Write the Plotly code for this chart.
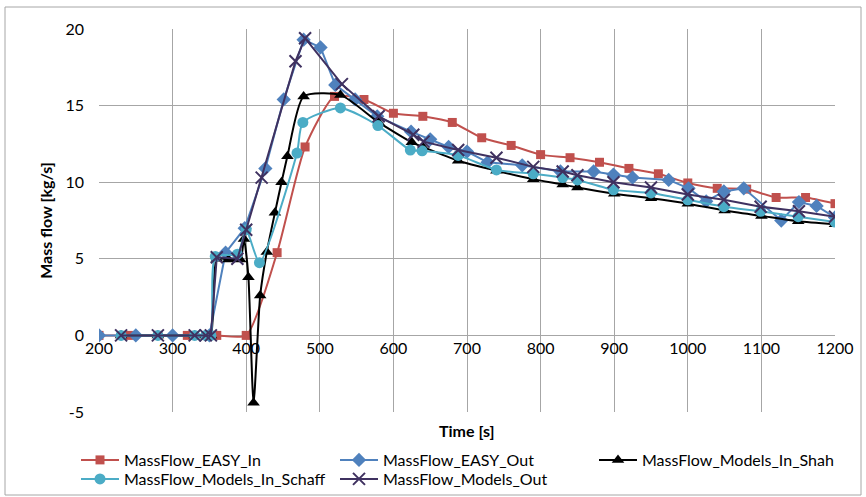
import plotly.graph_objects as go

# ---- data ----
t_easy_in = [200, 240, 280, 320, 360, 400, 442, 480, 520, 560, 600, 640, 680, 720, 760, 800,
             840, 880, 920, 960, 1000, 1040, 1080, 1120, 1160, 1200]
easy_in = [0, 0, 0, 0, 0, 0, 5.4, 12.3, 15.6, 15.4, 14.5, 14.3, 13.9, 12.9, 12.4, 11.8,
           11.6, 11.3, 10.9, 10.55, 9.95, 9.6, 9.55, 9.0, 9.0, 8.6]

t_easy_out = [200, 250, 300, 350, 372, 398, 426, 451, 478, 501, 521, 548, 578, 624, 650, 675,
              700, 728, 775, 827, 872, 899, 925, 974, 1001, 1025, 1049, 1076, 1127, 1151, 1175, 1200]
easy_out = [0, 0, 0, 0, 5.4, 7.0, 10.9, 15.4, 19.3, 18.8, 16.35, 15.4, 14.3, 13.3, 12.8, 12.3,
            12.0, 11.3, 11.1, 10.7, 10.7, 10.5, 10.3, 10.15, 9.6, 8.75, 9.4, 9.6, 7.5, 8.7, 8.45, 7.7]

t_shah = [230, 280, 330, 345, 352, 360, 376, 392, 397, 403, 410, 419, 428, 439, 448, 456, 478,
          528, 580, 625, 640, 688, 740, 790, 830, 850, 900, 950, 1000, 1050, 1100, 1150, 1200]
shah = [0, 0, 0, 0, 0, 5.0, 4.95, 4.95, 6.3, 3.8, -4.4, 2.6, 5.45, 8.0, 10.0, 11.7, 15.6,
        15.7, 13.9, 12.6, 12.3, 11.4, 10.75, 10.2, 9.85, 9.65, 9.25, 8.95, 8.6, 8.15, 7.8, 7.45, 7.25]

t_schaff = [230, 280, 330, 345, 352, 358, 388, 400, 418, 469, 477, 528, 579, 623, 639, 688, 740,
            790, 830, 850, 899, 950, 1000, 1049, 1099, 1150, 1200]
schaff = [0, 0, 0, 0, 0, 5.15, 5.3, 6.9, 4.75, 11.9, 13.9, 14.85, 13.7, 12.1, 12.05, 11.75, 10.8,
          10.55, 10.3, 10.15, 9.5, 9.3, 8.85, 8.4, 8.1, 7.75, 7.4]

t_models_out = [230, 280, 330, 345, 352, 360, 388, 400, 421, 467, 480, 530, 580, 627, 641, 688,
                740, 790, 830, 850, 899, 950, 1000, 1049, 1099, 1151, 1200]
models_out = [0, 0, 0, 0, 0, 5.1, 5.0, 6.9, 10.3, 17.9, 19.4, 16.4, 14.3, 13.1, 12.65, 12.1,
              11.6, 11.0, 10.7, 10.45, 10.0, 9.65, 9.2, 8.85, 8.4, 8.1, 7.75]

x_ticks = [200, 300, 400, 500, 600, 700, 800, 900, 1000, 1100, 1200]
y_ticks = [-5, 0, 5, 10, 15, 20]

FONT = "Lato"
W, H = 866, 497
L, R, T, B = 99, 31, 29, 85
PW, PH = W - L - R, H - T - B
fig = go.Figure()

series = [
    ("MassFlow_EASY_In", t_easy_in, easy_in, "#C0504D", "square", 9, "spline", "legend"),
    ("MassFlow_EASY_Out", t_easy_out, easy_out, "#4F81BD", "diamond", 11, "linear", "legend"),
    ("MassFlow_Models_In_Shah", t_shah, shah, "#000000", "triangle-up", 11, "spline", "legend"),
    ("MassFlow_Models_In_Schaff", t_schaff, schaff, "#4BACC6", "circle", 11, "spline", "legend2"),
    ("MassFlow_Models_Out", t_models_out, models_out, "#3F3160", "x-thin-open", 12, "linear", "legend2"),
]
for name, xs, ys, col, sym, sz, shape, leg in series:
    marker = dict(symbol=sym, size=sz, color=col)
    if sym == "x-thin-open":
        marker["line"] = dict(color=col, width=2)
    fig.add_trace(go.Scatter(
        x=xs, y=ys, name=name, mode="lines+markers", legend=leg,
        line=dict(color=col, width=2, shape=shape, smoothing=0.6 if shape == "spline" else None),
        marker=marker,
    ))

def px_x(p):
    return (p - L) / PW

def px_y(p):
    return (H - B - p) / PH

legend_common = dict(orientation="h", xanchor="left", yanchor="top",
                     entrywidth=206, entrywidthmode="pixels",
                     font=dict(family=FONT, size=16), tracegroupgap=0,
                     itemwidth=38, bgcolor="rgba(0,0,0,0)")

fig.update_layout(
    width=W, height=H,
    margin=dict(l=L, r=R, t=T, b=B, autoexpand=False),
    paper_bgcolor="white", plot_bgcolor="white",
    font=dict(family=FONT, size=15, color="#000000"),
    showlegend=True,
    legend=dict(x=px_x(76), y=px_y(443), **legend_common),
    legend2=dict(x=px_x(76), y=px_y(462), **legend_common),
    xaxis=dict(range=[200, 1200], tickvals=x_ticks, ticktext=[str(v) for v in x_ticks],
               showgrid=True, gridcolor="#A6A6A6", gridwidth=1,
               zeroline=False, showline=False, ticks="",
               anchor="free", position=0.2, ticklabelstandoff=2,
               tickfont=dict(family=FONT, size=16)),
    yaxis=dict(range=[-5, 20], tickvals=y_ticks, ticktext=[str(v) for v in y_ticks],
               showgrid=True, gridcolor="#A6A6A6", gridwidth=1,
               zeroline=False, showline=False, ticks="", ticklabelstandoff=14,
               tickfont=dict(family=FONT, size=16),
               title=dict(text="<b>Mass flow [kg/s]</b>", font=dict(family=FONT, size=16), standoff=8)),
)

fig.add_annotation(text="<b>Time [s]</b>", xref="paper", yref="paper",
                   x=0.5, y=px_y(430), showarrow=False,
                   font=dict(family=FONT, size=16), xanchor="center", yanchor="middle")

fig.add_shape(type="rect", xref="paper", yref="paper",
              x0=px_x(5), x1=px_x(861), y0=px_y(495), y1=px_y(7),
              line=dict(color="#A6A6A6", width=1), fillcolor="rgba(0,0,0,0)", layer="below")

fig.write_html("out.html")
